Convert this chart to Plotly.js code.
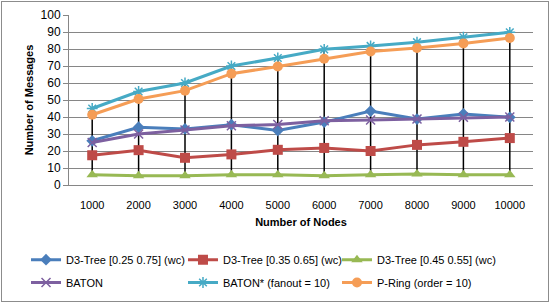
<!DOCTYPE html>
<html>
<head>
<meta charset="utf-8">
<script src="https://cdn.plot.ly/plotly-3.0.1.min.js"></script>
<style>
html,body{margin:0;padding:0;background:#fff;}
#wrap{position:relative;width:550px;height:303px;}
#chart{width:550px;height:303px;}
#frame{position:absolute;left:1px;top:1px;width:546px;height:299px;border:1px solid #8c8c8c;pointer-events:none;}
</style>
</head>
<body>
<div id="wrap"><div id="chart"></div><div id="frame"></div></div>
<script>
const nodes = [1000, 2000, 3000, 4000, 5000, 6000, 7000, 8000, 9000, 10000];
const d3Tree2575 = [26, 34, 33, 35.5, 32, 37, 43.5, 38.8, 41.8, 39.8];
const d3Tree3565 = [17.5, 20.5, 16, 18, 20.7, 21.8, 20, 23.6, 25.4, 27.6];
const d3Tree4555 = [6, 5.5, 5.5, 6, 6, 5.5, 6, 6.5, 6, 6];
const baton = [25, 30, 32.4, 34.8, 35.6, 37.8, 38.2, 38.8, 39.8, 40];
const batonStar = [45, 55, 60, 70, 74.7, 79.8, 81.8, 84, 86.9, 89.8];
const pRing = [41.3, 50.6, 55.5, 65.5, 69.7, 74.3, 78.5, 80.6, 83.3, 86.5];
const seriesNames = ['D3-Tree [0.25 0.75] (wc)', 'D3-Tree [0.35 0.65] (wc)', 'D3-Tree [0.45 0.55] (wc)', 'BATON', 'BATON* (fanout = 10)', 'P-Ring (order = 10)'];
const yTicks = [0, 10, 20, 30, 40, 50, 60, 70, 80, 90, 100];

const allSeries = [d3Tree2575, d3Tree3565, d3Tree4555, baton, batonStar, pRing];
const cats = nodes.map(String);

// high-low lines
const hlX = [], hlY = [];
cats.forEach((c, i) => {
  const vals = allSeries.map(s => s[i]);
  hlX.push(c, c, null);
  hlY.push(Math.max(...vals), Math.min(...vals), null);
});

const colors = ['#4A7EBB', '#BE4B48', '#98B954', '#7D60A0', '#46AAC5', '#F59D56'];
const symbols = ['diamond', 'square', 'triangle-up', 'x-thin-open', 'asterisk-open', 'circle'];
const sizes = [9, 10, 10, 9, 9, 10];
const legendIds = ['legend', 'legend2', 'legend3', 'legend4', 'legend5', 'legend6'];

const traces = [{
  x: hlX, y: hlY, type: 'scatter', mode: 'lines',
  line: {color: '#000', width: 1.5}, showlegend: false, hoverinfo: 'skip'
}];
allSeries.forEach((s, k) => {
  traces.push({
    x: cats, y: s, type: 'scatter', mode: 'lines+markers', name: seriesNames[k],
    line: {color: colors[k], width: 3},
    marker: {symbol: symbols[k], size: sizes[k], color: colors[k], line: {color: colors[k], width: (k === 3 || k === 4) ? 1.5 : 0}},
    legend: legendIds[k]
  });
});

const font = {family: 'Liberation Sans, Arial, sans-serif', size: 11, color: '#000'};
const legendX = [0.0473, 0.3327, 0.6127];
const legendY = [0.191, 0.1155];
const layout = {
  width: 550, height: 303,
  margin: {l: 69, r: 17, t: 15, b: 118, autoexpand: false},
  paper_bgcolor: '#fff', plot_bgcolor: '#fff',
  font: font,
  showlegend: true,
  xaxis: {
    type: 'category', range: [-0.5, 9.5], showgrid: false,
    showline: true, linecolor: '#868686', linewidth: 1,
    ticks: 'outside', ticklen: 10, tickcolor: 'rgba(0,0,0,0)', tickfont: font,
    title: {text: 'Number of Nodes', font: {family: font.family, size: 11, color: '#000', weight: 'bold'}, standoff: 8},
    zeroline: false, fixedrange: true, automargin: true
  },
  yaxis: {
    range: [0, 100], tickvals: yTicks, ticktext: yTicks.map(String),
    showgrid: true, gridcolor: '#868686', gridwidth: 1,
    showline: true, linecolor: '#868686', linewidth: 1,
    ticks: 'outside', ticklen: 5, tickcolor: '#868686',
    tickfont: {family: font.family, size: 12, color: '#000'},
    title: {text: 'Number of Messages', font: {family: font.family, size: 11, color: '#000', weight: 'bold'}, standoff: 4},
    zeroline: false, fixedrange: true, automargin: true
  }
};
legendIds.forEach((id, k) => {
  layout[id] = {
    orientation: 'h', xanchor: 'left', yanchor: 'top', font: font,
    xref: 'container', yref: 'container',
    x: legendX[k % 3], y: legendY[Math.floor(k / 3)],
    itemwidth: 30, bgcolor: 'rgba(0,0,0,0)', itemclick: false
  };
});
Plotly.newPlot('chart', traces, layout, {displayModeBar: false, staticPlot: true});
</script>
</body>
</html>
